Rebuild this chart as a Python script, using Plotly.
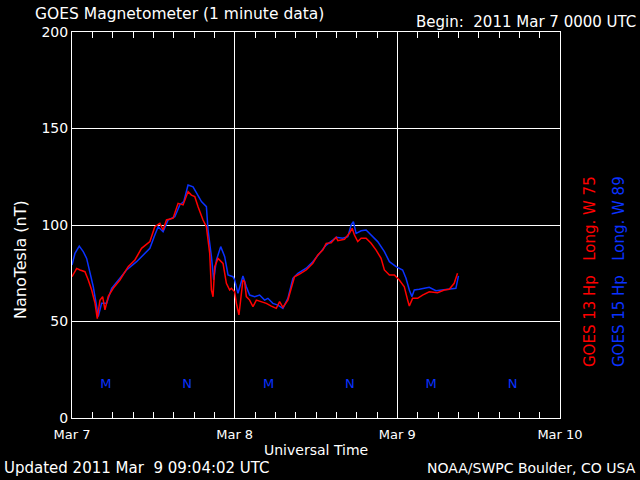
import plotly.graph_objects as go

# Hours since 2011 Mar 7 00:00 UTC
g13_hours = [0, 0.69, 1.18, 1.91, 2.40, 2.90, 3.39, 3.73, 4.12, 4.52, 4.86, 5.35, 6.08, 7.07, 8.29, 9.28,
             10.26, 11.49, 12.22, 12.96, 13.44, 13.94, 14.92, 15.65, 16.39, 17.12, 17.62, 18.11, 18.60,
             19.33, 19.83, 20.32, 20.57, 20.81, 21.06, 21.54, 22.28, 22.78, 23.26, 23.51, 24.0, 24.25,
             24.63, 24.99, 25.22, 25.47, 25.72, 26.21, 26.70, 27.2, 27.93, 28.67, 29.41, 30.14, 30.63,
             31.12, 31.85, 32.35, 32.83, 33.57, 34.56, 35.53, 36.27, 37.0, 37.5, 38.24, 38.98, 39.22,
             40.2, 40.93, 41.33, 41.67, 42.16, 42.66, 43.39, 44.13, 44.87, 45.6, 46.09, 46.83, 47.56,
             48.29, 49.03, 49.52, 49.77, 50.25, 50.99, 51.72, 52.71, 53.93, 54.92, 55.66, 56.39, 56.88]
g13_nt = [73.2, 77.5, 76.7, 75.8, 71.5, 66.3, 59.6, 51.5, 61, 62.9, 56, 63, 67.2, 71.5, 78.4, 81.9,
          87.9, 91.4, 99.1, 100.9, 97.4, 102.6, 103.5, 111.2, 110.4, 117.3, 115.5, 114.7, 109.5,
          102.6, 99.1, 85.3, 66.3, 62.8, 78.4, 82.7, 80.1, 69.8, 66.3, 67.2, 65.4, 59.4,
          53.4, 62.9, 71.5, 70.6, 62.9, 61.1, 57.7, 61.1, 60.3, 59.4, 58, 56.8, 60.3,
          57.3, 61.1, 68, 73.2, 74.6, 76.7, 80.2, 84.5, 87, 90.5, 90.8, 93.6, 91.9,
          92.6, 95.7, 98.3, 94.8, 91.4, 93.1, 93.1, 90.5, 87, 82.7, 76.7, 74.1, 74.1,
          71.5, 68, 61.1, 58, 62, 62, 63.7, 65.4, 64.9, 66.3, 66.7, 69.8, 75]

g15_hours = [0, 0.44, 1.07, 1.66, 2.16, 2.65, 3.14, 3.64, 3.87, 4.37, 5.11, 5.85, 6.82, 8.05, 9.53,
             10.75, 11.49, 12.22, 12.71, 13.44, 14.18, 15.17, 15.9, 16.49, 17.12, 17.86, 18.36, 19.1,
             19.83, 20.07, 20.57, 20.91, 21.31, 21.94, 22.53, 23.02, 23.75, 24.0, 24.49, 25.22, 25.72,
             26.21, 26.95, 27.68, 28.42, 28.9, 29.64, 30.38, 31.12, 31.85, 32.59, 33.33, 34.56, 35.53,
             36.52, 37.5, 38.48, 38.98, 39.95, 40.69, 41.18, 41.52, 41.92, 42.66, 43.39, 44.13, 45.1,
             46.09, 46.83, 47.81, 48.78, 49.28, 49.77, 50.16, 50.5, 51.24, 52.71, 53.69, 54.67, 55.66,
             56.39, 56.64, 57.02]
g15_nt = [79.3, 85.3, 89.1, 86.2, 82.7, 75, 68, 57.7, 52.5, 59.4, 59.4, 67.2, 71.5, 76.7, 81,
          85.3, 87.9, 94.8, 99.1, 96.5, 102.6, 104.3, 110.4, 112.1, 120.7, 119.8, 116.4, 112.1,
          109.5, 97.4, 83.6, 71.5, 81.9, 88.8, 83.6, 74.1, 73.2, 71.5, 64.6, 73.6, 68,
          63.7, 62.9, 63.7, 61.1, 62, 59.4, 58.5, 56.8, 62, 72.4, 75, 77.6, 81,
          85.3, 89.6, 92.2, 93.6, 93.1, 93.9, 100, 101.7, 95.7, 97, 97.4, 94.8, 91.4,
          86.2, 81, 78.4, 76.7, 72.4, 66.3, 62.9, 66.3, 66.7, 67.7, 66, 66.3, 66.7,
          67.2, 67.2, 73.6]

day_ticks = [0, 24, 48, 72]
day_labels = ["Mar 7", "Mar 8", "Mar 9", "Mar 10"]
mn_hours = [5, 17, 29, 41, 53, 65]
mn_labels = ["M", "N", "M", "N", "M", "N"]
mn_level = 17

RED = "#ff0000"
BLUE = "#0a32ff"
FONT = "DejaVu Sans"

fig = go.Figure()
fig.add_trace(go.Scatter(x=g15_hours, y=g15_nt, mode="lines", line=dict(color=BLUE, width=1.5),
                         showlegend=False, hoverinfo="skip"))
fig.add_trace(go.Scatter(x=g13_hours, y=g13_nt, mode="lines", line=dict(color=RED, width=1.5),
                         showlegend=False, hoverinfo="skip"))
fig.add_trace(go.Scatter(x=mn_hours, y=[mn_level] * len(mn_hours), mode="text", text=mn_labels,
                         textfont=dict(color=BLUE, size=13, family=FONT), showlegend=False,
                         hoverinfo="skip"))

fig.update_layout(
    width=640, height=480,
    margin=dict(l=72, r=80, t=32, b=62),
    paper_bgcolor="black", plot_bgcolor="black",
    font=dict(family=FONT, color="white", size=13),
    xaxis=dict(range=[0, 72], tickvals=day_ticks, ticktext=day_labels, showgrid=True,
               gridcolor="white", gridwidth=1, showline=True, linecolor="white", linewidth=1,
               mirror="allticks", ticks="inside", ticklen=6, tickcolor="white", ticklabelstandoff=4,
               minor=dict(dtick=3, tick0=0, ticks="inside", ticklen=6, tickcolor="white", showgrid=False),
               zeroline=False, tickfont=dict(size=13, color="white"), fixedrange=True),
    yaxis=dict(range=[0, 200], dtick=50, tick0=0, showgrid=True, gridcolor="white", gridwidth=1,
               showline=True, linecolor="white", linewidth=1, mirror=True, ticks="",
               zeroline=False, tickfont=dict(size=14, color="white"), fixedrange=True),
)

def px(xp):
    return (xp - 72) / 488.0

def py(yp):
    return (418 - yp) / 386.0

ann = [
    dict(text="GOES Magnetometer (1 minute data)", x=px(33), y=py(14), xanchor="left", yanchor="middle",
         font=dict(size=15.5)),
    dict(text="Begin:\u00a0\u00a02011 Mar 7 0000 UTC", x=px(638), y=py(22), xanchor="right", yanchor="middle",
         font=dict(size=15)),
    dict(text="Universal Time", x=0.5, y=py(450), xanchor="center", yanchor="middle", font=dict(size=14)),
    dict(text="Updated 2011 Mar\u00a0\u00a09 09:04:02 UTC", x=px(2), y=py(468), xanchor="left",
         yanchor="middle", font=dict(size=15)),
    dict(text="NOAA/SWPC Boulder, CO USA", x=px(638), y=py(468), xanchor="right", yanchor="middle",
         font=dict(size=14)),
    dict(text="NanoTesla (nT)", x=px(20), y=py(260), xanchor="center", yanchor="middle", textangle=-90,
         font=dict(size=16)),
    dict(text="GOES 13 Hp\u00a0\u00a0\u00a0Long. W 75", x=px(590), y=py(272), xanchor="center",
         yanchor="middle", textangle=-90, font=dict(size=15, color=RED)),
    dict(text="GOES 15 Hp\u00a0\u00a0\u00a0Long. W 89", x=px(619), y=py(272), xanchor="center",
         yanchor="middle", textangle=-90, font=dict(size=15, color=BLUE)),
]
for a in ann:
    a.update(xref="paper", yref="paper", showarrow=False)
fig.update_layout(annotations=ann)

fig.write_html("out.html", config={"displayModeBar": False},
               post_script="document.body.style.margin='0';document.body.style.padding='0';")
